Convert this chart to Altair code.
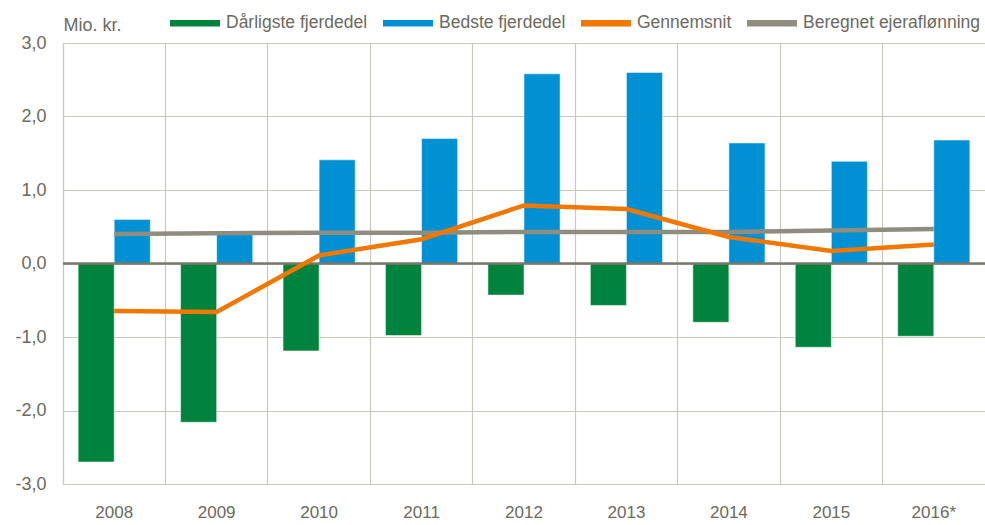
import altair as alt
import pandas as pd

years = ["2008", "2009", "2010", "2011", "2012", "2013", "2014", "2015", "2016*"]
worst = [-2.70, -2.16, -1.19, -0.98, -0.43, -0.57, -0.80, -1.14, -0.99]
best = [0.60, 0.43, 1.41, 1.70, 2.58, 2.60, 1.64, 1.39, 1.68]
average = [-0.645, -0.66, 0.11, 0.33, 0.79, 0.74, 0.36, 0.17, 0.26]
owner_pay = [0.40, 0.41, 0.42, 0.42, 0.43, 0.43, 0.43, 0.45, 0.47]

series_names = ["Dårligste fjerdedel", "Bedste fjerdedel", "Gennemsnit", "Beregnet ejeraflønning"]
series_colors = ["#00843d", "#0091d5", "#f07800", "#8f8d80"]

bars_df = pd.DataFrame(
    [{"year": y, "series": series_names[0], "value": v} for y, v in zip(years, worst)]
    + [{"year": y, "series": series_names[1], "value": v} for y, v in zip(years, best)]
)
lines_df = pd.DataFrame(
    [{"year": y, "series": series_names[3], "value": v} for y, v in zip(years, owner_pay)]
    + [{"year": y, "series": series_names[2], "value": v} for y, v in zip(years, average)]
)

FONT = "Liberation Sans"
TXT = "#6b6a5e"
GRID = "#c9c8be"

x_enc = alt.X(
    "year:N",
    sort=years,
    title=None,
    scale=alt.Scale(paddingInner=0, paddingOuter=0),
    axis=alt.Axis(
        grid=True, bandPosition=0, gridColor=GRID, gridWidth=1.2,
        ticks=False, domain=False, labelAngle=0,
        labelFont=FONT, labelFontSize=17, labelColor=TXT, labelPadding=20,
    ),
)
y_enc = alt.Y(
    "value:Q",
    title="Mio. kr.",
    scale=alt.Scale(domain=[-3, 3], nice=False, zero=False),
    axis=alt.Axis(
        values=[-3, -2, -1, 0, 1, 2, 3],
        labelExpr="(datum.value < 0 ? '-' : '') + abs(datum.value) + ',0'",
        grid=True, gridColor=GRID, gridWidth=1.2,
        ticks=False, domain=True, domainColor=GRID, domainWidth=1.2,
        labelFont=FONT, labelFontSize=18, labelColor=TXT, labelPadding=17,
        titleFont=FONT, titleFontSize=18, titleColor=TXT, titleFontWeight="normal",
        titleAngle=0, titleAlign="left", titleBaseline="bottom", titleX=0, titleY=-9,
    ),
)
color_enc = alt.Color(
    "series:N",
    scale=alt.Scale(domain=series_names, range=series_colors),
    legend=alt.Legend(
        title=None, orient="none", legendX=107, legendY=-45, direction="horizontal",
        columns=4, columnPadding=15,
        symbolType="M-1,-0.13H1V0.13H-1Z", symbolSize=2500, symbolStrokeWidth=0,
        labelFont=FONT, labelFontSize=17.5, labelColor=TXT, labelOffset=6,
        labelLimit=300,
    ),
)

bars = alt.Chart(bars_df).mark_bar(stroke="white", strokeOpacity=0.5, strokeWidth=1).encode(
    x=x_enc,
    xOffset=alt.XOffset("series:N", sort=series_names[:2],
                        scale=alt.Scale(paddingInner=0, paddingOuter=0.42)),
    y=y_enc,
    color=color_enc,
)

lines = alt.Chart(lines_df).mark_line(strokeWidth=4.5).encode(
    x=x_enc,
    y=y_enc,
    color=color_enc,
    detail="series:N",
)

zero = alt.Chart(pd.DataFrame({"value": [0]})).mark_rule(color="#7a786c", strokeWidth=2.5).encode(
    y=alt.Y("value:Q")
)

chart = alt.layer(bars, zero, lines).properties(
    width=922, height=441,
    autosize=alt.AutoSizeParams(type="none"),
    padding={"left": 63, "top": 43, "right": 0, "bottom": 41},
).configure_view(stroke=None).configure(background="white")

chart.save("out.html", embed_options={"renderer": "svg", "actions": False})
